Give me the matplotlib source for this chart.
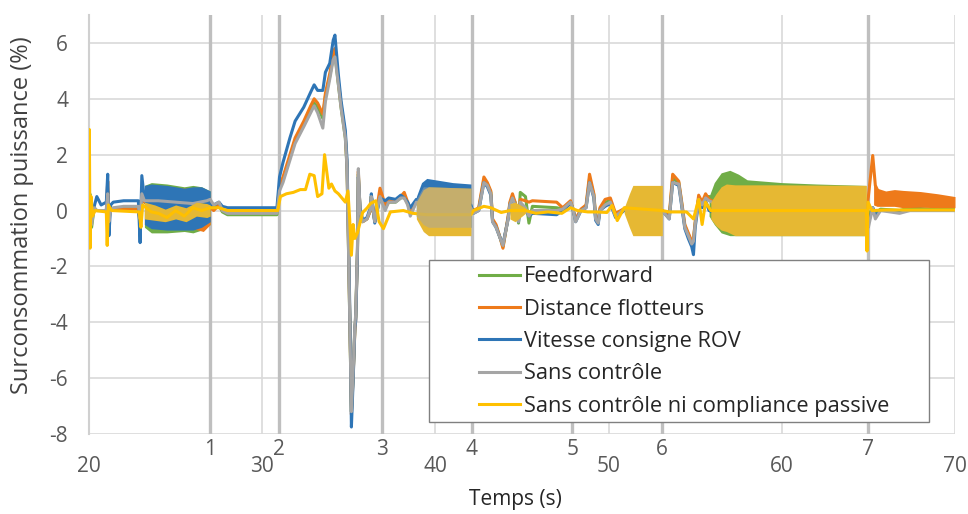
import matplotlib
matplotlib.use("Agg")
import matplotlib.pyplot as plt
import matplotlib.transforms as mtransforms
from matplotlib.patches import Rectangle
from matplotlib.lines import Line2D

plt.rcParams["font.family"] = ["Open Sans", "DejaVu Sans"]
plt.rcParams["axes.unicode_minus"] = False

# --- données -----------------------------------------------------------------
# grille de temps commune aux 4 essais avec contrôle / sans contrôle
t_ctrl = [
    20.00, 20.05, 20.15, 20.30, 20.45, 20.70, 21.00, 21.08, 21.15, 21.25, 21.40, 22.00, 22.85, 22.95, 23.05, 23.20,
    24.00, 25.00, 26.00, 26.80, 27.00,
    27.20, 27.50, 27.70, 28.00, 30.85,
    31.00, 31.20, 31.60, 31.90, 32.40, 32.80, 33.00, 33.20, 33.50, 33.65, 33.90, 34.10, 34.20, 34.40, 34.55, 34.80,
    34.90, 35.00, 35.10, 35.15, 35.25, 35.35, 35.40, 35.50, 35.55, 35.65, 35.80, 36.05, 36.25, 36.30, 36.50, 36.80,
    37.10, 37.30, 37.70, 38.00, 38.20, 38.40, 38.55, 38.90,
    39.50, 40.50, 41.50, 42.05,
    42.20, 42.50, 42.80, 43.00, 43.20, 43.30, 43.50, 43.75, 43.90, 44.20, 44.30, 44.45, 44.60, 44.80, 44.90, 45.20,
    45.40, 45.60, 47.00, 47.35, 47.80, 47.92,
    48.10, 48.40, 48.70, 48.90, 49.15, 49.25, 49.40, 49.50, 49.80, 50.10, 50.40, 51.00,
    52.00, 53.10,
    53.50, 53.70, 54.05, 54.20, 54.40, 54.60, 54.80, 54.90, 55.00, 55.20, 55.40, 55.60, 55.80,
    57.00, 60.00, 64.85,
    64.95, 65.00, 65.25, 65.40, 65.70, 66.80, 67.40, 68.50, 70.00,
]

feedforward = [
    0.0, 0.6, -0.6, 0.1, 0.0, 0.0, 0.0, 0.7, -0.3, 0.0, 0.05, 0.1, 0.1, -0.4, 0.4, 0.3,
    0.1, 0.05, 0.1, 0.1, 0.1,
    0.1, 0.2, -0.05, -0.15, -0.15,
    0.8, 1.1, 1.9, 2.5, 3.1, 3.6, 3.85, 3.7, 3.3, 4.1, 4.8, 5.5, 5.6, 4.5, 3.7, 2.6,
    1.5, -1.9, -5.4, -7.2, -5.9, -4.2, -3.8, -1.4, 1.3, 0.0, -0.4, -0.3, 0.0, 0.5, -0.4, 0.5,
    0.1, 0.3, 0.3, 0.45, 0.5, 0.25, -0.1, 0.3,
    0.1, 0.1, 0.1, 0.1,
    0.0, 0.05, 1.1, 0.95, 0.65, -0.35, -0.55, -1.0, -1.3, -0.25, 0.25, 0.5, 0.3, -0.45, 0.65, 0.5,
    -0.45, 0.15, 0.1, 0.05, 0.3, 0.1,
    -0.35, 0.0, 0.15, 1.15, 0.55, -0.25, -0.4, 0.05, 0.3, 0.35, -0.15, 0.1,
    0.0, 0.0,
    -0.25, 1.15, 1.0, 0.35, -0.55, -0.85, -1.15, -1.05, -0.45, 0.45, 0.25, 0.5, 0.5,
    0.3, 0.2, 0.1,
    0.0, -0.2, 0.1, -0.1, 0.05, 0.0, 0.1, 0.05, 0.05,
]

distance_flotteurs = [
    0.0, 0.3, -0.3, 0.0, 0.0, 0.0, 0.0, 1.05, -0.2, 0.0, 0.05, 0.05, 0.05, -0.5, 0.5, 0.3,
    0.1, 0.05, 0.1, 0.05, 0.1,
    0.0, 0.2, 0.0, -0.05, -0.05,
    0.9, 1.2, 2.0, 2.6, 3.2, 3.75, 4.0, 3.85, 3.45, 4.2, 4.9, 5.6, 5.8, 4.6, 3.8, 2.7,
    1.6, -1.8, -5.3, -7.3, -6.0, -4.3, -3.9, -1.5, 1.4, 0.0, -0.4, -0.3, 0.0, 0.5, -0.4, 0.8,
    0.2, 0.35, 0.35, 0.5, 0.65, 0.3, 0.0, 0.35,
    0.1, 0.1, 0.1, 0.1,
    0.0, 0.1, 1.2, 1.0, 0.7, -0.3, -0.5, -1.0, -1.35, -0.2, 0.3, 0.6, 0.3, -0.3, 0.4, 0.35,
    0.3, 0.35, 0.3, 0.1, 0.35, 0.1,
    -0.3, 0.05, 0.2, 1.3, 0.6, -0.2, -0.4, 0.1, 0.4, 0.45, -0.1, 0.1,
    0.0, 0.0,
    -0.2, 1.3, 1.05, 0.4, -0.5, -0.8, -1.1, -1.0, -0.4, 0.55, 0.3, 0.6, 0.4,
    0.0, 0.0, 0.0,
    0.3, 0.5, 1.97, 0.9, 0.5, 0.45, 0.4, 0.4, 0.3,
]

vitesse_rov = [
    0.0, 0.4, -0.3, 0.15, 0.5, 0.2, 0.3, 1.3, -0.9, 0.2, 0.3, 0.35, 0.35, -1.15, 1.25, 0.4,
    0.15, 0.1, 0.1, 0.1, 0.2,
    0.2, 0.3, 0.15, 0.1, 0.1,
    1.2, 1.72, 2.6, 3.2, 3.7, 4.24, 4.5, 4.3, 4.3, 4.95, 5.27, 6.1, 6.28, 4.85, 3.95, 2.87,
    1.8, -1.5, -5.1, -7.75, -6.1, -4.2, -3.95, -1.55, 1.2, 0.1, -0.35, -0.25, 0.1, 0.6, -0.45, 0.45,
    0.35, 0.45, 0.4, 0.55, 0.45, 0.3, 0.1, 0.4,
    0.3, 0.25, 0.2, 0.2,
    -0.1, 0.0, 1.0, 0.85, 0.55, -0.4, -0.6, -1.0, -1.2, -0.3, 0.2, 0.4, 0.2, -0.4, 0.25, 0.05,
    -0.2, -0.1, -0.15, 0.0, 0.25, 0.1,
    -0.4, 0.0, 0.1, 1.0, 0.45, -0.35, -0.5, 0.0, 0.15, 0.25, -0.25, 0.05,
    0.0, 0.0,
    -0.3, 1.0, 0.9, 0.25, -0.65, -1.0, -1.3, -1.58, -0.6, 0.3, 0.1, 0.35, 0.0,
    -0.3, 0.0, 0.0,
    -0.2, -0.4, 0.1, -0.2, 0.0, 0.0, 0.0, 0.0, 0.0,
]

sans_controle = [
    0.0, 0.5, -0.5, 0.1, 0.0, 0.0, 0.0, 0.6, -0.4, 0.0, 0.1, 0.15, 0.15, -0.3, 0.6, 0.35,
    0.35, 0.3, 0.25, 0.35, 0.4,
    0.2, 0.3, 0.0, -0.1, -0.1,
    0.7, 1.0, 1.8, 2.4, 3.0, 3.5, 3.75, 3.5, 2.95, 3.9, 4.7, 5.4, 5.5, 4.5, 3.7, 2.6,
    1.5, -2.0, -5.5, -7.2, -5.8, -4.1, -3.7, -1.3, 1.5, 0.0, -0.4, -0.3, 0.05, 0.5, -0.4, 0.5,
    0.0, 0.3, 0.3, 0.45, 0.45, 0.2, -0.2, 0.3,
    0.1, 0.1, 0.1, 0.1,
    -0.1, 0.0, 1.0, 0.9, 0.6, -0.4, -0.6, -1.0, -1.25, -0.3, 0.2, 0.45, 0.2, -0.4, 0.3, 0.1,
    -0.2, 0.0, 0.0, 0.05, 0.3, 0.1,
    -0.4, 0.0, 0.1, 1.0, 0.5, -0.3, -0.45, 0.0, 0.2, 0.3, -0.2, 0.1,
    0.0, 0.0,
    -0.3, 1.0, 0.95, 0.3, -0.6, -0.9, -1.2, -1.1, -0.5, 0.4, 0.2, 0.45, 0.35,
    0.0, 0.0, 0.0,
    -0.3, -0.6, 0.1, -0.3, 0.0, -0.1, 0.0, 0.0, 0.0,
]

# essai sans contrôle ni compliance passive (grille propre)
t_passif = [
    20.00, 20.02, 20.06, 20.12, 20.20, 20.35, 21.00, 21.05, 21.12, 21.30, 22.90, 23.00, 23.10, 23.60,
    24.00, 24.50, 25.00, 25.50, 26.00, 26.50, 27.00, 27.50, 28.00, 30.90, 31.05, 31.40, 31.80, 32.20,
    32.50, 32.75, 33.00, 33.20, 33.45, 33.60, 33.85, 34.00, 34.20, 34.40, 34.80, 34.95, 35.05, 35.15,
    35.25, 35.35, 35.50, 35.80, 36.07, 36.25, 36.55, 36.75, 37.00, 37.40, 38.15, 38.70, 39.50, 42.05,
    42.20, 42.80, 43.20, 43.80, 44.30, 45.20, 45.80, 46.50, 47.30, 47.80, 48.20, 48.80, 49.30, 49.90,
    50.20, 50.50, 50.90, 53.10, 53.50, 54.50, 54.90, 55.20, 55.40, 55.60, 55.90, 60.00, 64.88, 64.92,
    64.98, 65.20, 66.00, 70.00,
]
sans_controle_passif = [
    0.0, 2.9, -1.35, 0.5, -0.2, 0.0, -0.05, -1.25, 0.2, 0.0, -0.05, -0.6, 0.2, -0.05,
    -0.1, -0.25, 0.0, -0.2, 0.1, 0.0, 0.1, 0.1, 0.0, 0.0, 0.5, 0.6, 0.65, 0.75,
    0.75, 1.3, 1.25, 0.5, 0.6, 2.0, 0.8, 0.95, 0.7, 0.6, 0.3, 0.7, -0.3, -1.6,
    -0.5, -1.0, -0.8, -0.07, 0.1, 0.25, 0.35, -0.4, -0.65, -0.05, 0.0, -0.1, -0.15, -0.15,
    0.0, 0.15, 0.1, -0.07, 0.0, 0.0, -0.1, -0.05, -0.1, 0.1, 0.0, -0.05, -0.05, -0.07,
    0.18, -0.36, 0.1, 0.0, -0.05, -0.05, -0.3, 0.4, -0.5, 0.3, 0.0, 0.0, 0.0, -1.45,
    0.3, 0.0, 0.02, 0.02,
]

# enveloppes des zones d'oscillation rapide (t, min, max)
ff_band1_t = [23.2, 23.6, 24.5, 25.5, 26.0, 26.5, 27.0]
ff_band1_lo = [-0.6, -0.8, -0.8, -0.75, -0.8, -0.7, -0.5]
ff_band1_hi = [0.9, 1.0, 0.95, 0.85, 0.9, 0.85, 0.7]
ff_band4_t = [55.8, 56.1, 56.5, 57.0, 57.5, 58.0, 60.0, 62.0, 64.85]
ff_band4_lo = [-0.2, -0.5, -0.8, -0.9, -0.9, -0.9, -0.9, -0.9, -0.9]
ff_band4_hi = [0.5, 1.0, 1.35, 1.44, 1.3, 1.1, 1.0, 0.95, 0.9]

df_band1_t = [23.2, 24.5, 26.0, 26.6, 27.0]
df_band1_lo = [-0.5, -0.65, -0.65, -0.75, -0.5]
df_band1_hi = [0.7, 0.8, 0.8, 0.7, 0.5]
df_band7_t = [65.3, 65.5, 66.0, 66.5, 67.0, 68.0, 69.0, 70.0]
df_band7_lo = [0.2, 0.15, 0.15, 0.15, 0.1, 0.12, 0.1, 0.1]
df_band7_hi = [1.0, 0.8, 0.7, 0.75, 0.72, 0.68, 0.6, 0.5]

rov_band1_t = [23.2, 23.6, 24.5, 25.5, 26.0, 26.5, 27.0]
rov_band1_lo = [-0.5, -0.65, -0.7, -0.7, -0.7, -0.6, -0.4]
rov_band1_hi = [0.9, 0.95, 0.9, 0.8, 0.85, 0.85, 0.7]
rov_band2_t = [38.9, 39.2, 39.5, 40.0, 41.0, 42.05]
rov_band2_lo = [-0.2, -0.5, -0.6, -0.6, -0.6, -0.6]
rov_band2_hi = [0.5, 1.0, 1.15, 1.1, 1.0, 0.95]

sc_band2_t = [38.9, 39.3, 39.6, 42.05]
sc_band2_lo = [-0.2, -0.5, -0.6, -0.6]
sc_band2_hi = [0.4, 0.85, 0.85, 0.8]

ps_band1_t = [23.2, 23.8, 24.4, 25.0, 25.6, 26.2, 26.8, 27.0]
ps_band1_lo = [-0.3, -0.35, -0.4, -0.3, -0.4, -0.2, -0.25, -0.2]
ps_band1_hi = [0.3, 0.2, 0.05, 0.2, 0.1, 0.3, 0.25, 0.2]
ps_band2_t = [38.9, 39.3, 39.6, 42.05]
ps_band2_lo = [-0.3, -0.75, -0.9, -0.9]
ps_band2_hi = [0.3, 0.75, 0.85, 0.8]
ps_band3_t = [50.9, 51.2, 51.4, 53.1]
ps_band3_lo = [-0.1, -0.6, -0.9, -0.9]
ps_band3_hi = [0.1, 0.6, 0.9, 0.9]
ps_band4_t = [55.9, 56.2, 56.5, 56.8, 57.3, 60.0, 64.88]
ps_band4_lo = [-0.3, -0.55, -0.7, -0.75, -0.9, -0.9, -0.9]
ps_band4_hi = [0.3, 0.6, 0.85, 0.95, 0.92, 0.92, 0.9]
ps_band5_t = [44.3, 44.6, 45.2]
ps_band5_lo = [-0.3, -0.4, -0.1]
ps_band5_hi = [0.25, 0.3, 0.1]

# repères de phases (lignes verticales 1..7)
event_t = [27.0, 30.95, 36.9, 42.1, 47.9, 53.1, 64.95]
event_labels = ["1", "2", "3", "4", "5", "6", "7"]

x_ticks = [20, 30, 40, 50, 60, 70]
y_ticks = [-8, -6, -4, -2, 0, 2, 4, 6]

labels = ["Feedforward", "Distance flotteurs", "Vitesse consigne ROV",
          "Sans contrôle", "Sans contrôle ni compliance passive"]
colors = ["#70AD47", "#EE7A1A", "#2E75B6", "#A5A5A5", "#FFC000"]
BAND_YELLOW = "#E6B833"
FS = 15

series = [
    (t_ctrl, feedforward, [(ff_band1_t, ff_band1_lo, ff_band1_hi), (ff_band4_t, ff_band4_lo, ff_band4_hi)]),
    (t_ctrl, distance_flotteurs, [(df_band1_t, df_band1_lo, df_band1_hi), (df_band7_t, df_band7_lo, df_band7_hi)]),
    (t_ctrl, vitesse_rov, [(rov_band1_t, rov_band1_lo, rov_band1_hi), (rov_band2_t, rov_band2_lo, rov_band2_hi)]),
    (t_ctrl, sans_controle, []),
    (t_passif, sans_controle_passif, [(ps_band1_t, ps_band1_lo, ps_band1_hi), (ps_band2_t, ps_band2_lo, ps_band2_hi),
                                      (ps_band3_t, ps_band3_lo, ps_band3_hi), (ps_band4_t, ps_band4_lo, ps_band4_hi),
                                      (ps_band5_t, ps_band5_lo, ps_band5_hi)]),
]

fig = plt.figure(figsize=(9.68, 5.14), dpi=100)
ax = fig.add_axes([89 / 968, 1 - 434 / 514, (955 - 89) / 968, (434 - 15) / 514])

for i, (t, v, bands) in enumerate(series):
    z = 2 + i
    fill_col = BAND_YELLOW if i == 4 else colors[i]
    for bt, lo, hi in bands:
        ax.fill_between(bt, lo, hi, color=fill_col, lw=0, zorder=z)
    ax.plot(t, v, color=colors[i], lw=2.2, zorder=z + 0.1, solid_joinstyle="round")

# zone où "sans contrôle" oscille en même temps que le cas passif
ax.fill_between(sc_band2_t, sc_band2_lo, sc_band2_hi, color=colors[3], alpha=0.5, lw=0, zorder=6.5)

for x in event_t:
    ax.axvline(x, color="#BFBFBF", lw=2.4, zorder=1)

ax.set_xlim(20, 70)
ax.set_ylim(-8, 7)
ax.set_xticks(x_ticks)
ax.set_yticks(y_ticks)
ax.grid(True, color="#D9D9D9", lw=1.2, zorder=0)
ax.set_axisbelow(True)
for s in ["top", "right", "bottom"]:
    ax.spines[s].set_visible(False)
ax.spines["left"].set_color("#D0D0D0")
ax.spines["left"].set_linewidth(1.5)
ax.tick_params(length=0, labelsize=FS, labelcolor="#595959")
ax.tick_params(axis="x", pad=16)
ax.tick_params(axis="y", pad=15)

trans = mtransforms.blended_transform_factory(ax.transData, ax.transAxes)
for x, lab in zip(event_t, event_labels):
    ax.text(x, -0.038, lab, transform=trans, ha="center", va="center",
            fontsize=FS, color="#595959")

fig.text(22 / 968, 1 - 215 / 514, "Surconsommation puissance (%)", rotation=90,
         ha="center", va="center", fontsize=17, color="#404040")
fig.text(515 / 968, 1 - 499 / 514, "Temps (s)", ha="center", va="center",
         fontsize=FS, color="#262626")

# légende : cadre dessiné à part
fig.patches.append(Rectangle((429 / 968, 1 - 422 / 514), 500 / 968, 162 / 514,
                             transform=fig.transFigure, facecolor="white",
                             edgecolor="#808080", lw=1.0, zorder=3))
handles = [Line2D([0], [0], color=c, lw=2.2) for c in colors]
fig.legend(handles, labels, loc="upper left", bbox_to_anchor=(475 / 968, 1 - 262 / 514),
           frameon=False, fontsize=15.7, handlelength=1.88, handletextpad=0.18,
           labelspacing=0.52, borderpad=0.2, borderaxespad=0, labelcolor="#262626")

fig.savefig("out.png", dpi=100)
